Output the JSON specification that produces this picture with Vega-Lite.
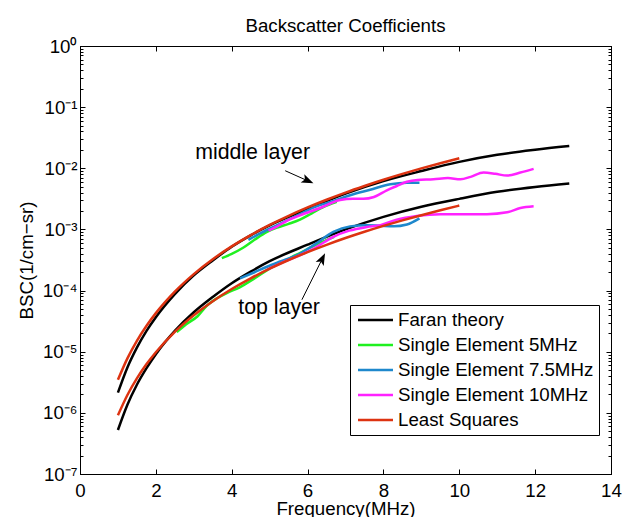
{
  "$schema": "https://vega.github.io/schema/vega-lite/v6.json",
  "width": 531,
  "height": 428,
  "autosize": {"type": "none"},
  "padding": {"left": 80, "top": 46, "right": 13, "bottom": 43},
  "background": "white",
  "title": {"text": "Backscatter Coefficients", "font": "Liberation Sans", "fontSize": 18.7, "fontWeight": "normal", "color": "black", "frame": "group", "baseline": "alphabetic", "offset": 14, "dy": 28},
  "config": {
    "font": "Liberation Sans",
    "view": {"stroke": "black", "strokeWidth": 1},
    "axis": {"grid": false, "domainColor": "black", "tickColor": "black", "labelColor": "black", "titleColor": "black", "labelFont": "Liberation Sans", "titleFont": "Liberation Sans", "labelFontSize": 18.7, "titleFontSize": 18.7, "titleFontWeight": "normal", "domainWidth": 1, "tickWidth": 1, "labelFlush": false, "labelOverlap": false}
  },
  "datasets": {
    "curves": [
      {"s": "Faran theory", "l": "mid", "f": 1, "v": 2.138e-6},
      {"s": "Faran theory", "l": "mid", "f": 1.25, "v": 5.53e-6},
      {"s": "Faran theory", "l": "mid", "f": 1.5, "v": 1.167e-5},
      {"s": "Faran theory", "l": "mid", "f": 1.75, "v": 2.173e-5},
      {"s": "Faran theory", "l": "mid", "f": 2, "v": 3.666e-5},
      {"s": "Faran theory", "l": "mid", "f": 2.5, "v": 8.75e-5},
      {"s": "Faran theory", "l": "mid", "f": 3, "v": 1.77e-4},
      {"s": "Faran theory", "l": "mid", "f": 3.5, "v": 3.112e-4},
      {"s": "Faran theory", "l": "mid", "f": 4, "v": 5.22e-4},
      {"s": "Faran theory", "l": "mid", "f": 4.5, "v": 8.017e-4},
      {"s": "Faran theory", "l": "mid", "f": 5, "v": 1.167e-3},
      {"s": "Faran theory", "l": "mid", "f": 6, "v": 2.163e-3},
      {"s": "Faran theory", "l": "mid", "f": 7, "v": 3.846e-3},
      {"s": "Faran theory", "l": "mid", "f": 8, "v": 6.166e-3},
      {"s": "Faran theory", "l": "mid", "f": 9, "v": 9.016e-3},
      {"s": "Faran theory", "l": "mid", "f": 10, "v": 1.274e-2},
      {"s": "Faran theory", "l": "mid", "f": 11, "v": 1.663e-2},
      {"s": "Faran theory", "l": "mid", "f": 12, "v": 2.009e-2},
      {"s": "Faran theory", "l": "mid", "f": 12.9, "v": 2.312e-2},
      {"s": "Faran theory", "l": "top", "f": 1, "v": 5.248e-7},
      {"s": "Faran theory", "l": "top", "f": 1.25, "v": 1.358e-6},
      {"s": "Faran theory", "l": "top", "f": 1.5, "v": 2.884e-6},
      {"s": "Faran theory", "l": "top", "f": 1.75, "v": 5.333e-6},
      {"s": "Faran theory", "l": "top", "f": 2, "v": 9.12e-6},
      {"s": "Faran theory", "l": "top", "f": 2.5, "v": 2.188e-5},
      {"s": "Faran theory", "l": "top", "f": 3, "v": 4.416e-5},
      {"s": "Faran theory", "l": "top", "f": 3.5, "v": 7.852e-5},
      {"s": "Faran theory", "l": "top", "f": 4, "v": 1.318e-4},
      {"s": "Faran theory", "l": "top", "f": 4.5, "v": 2.042e-4},
      {"s": "Faran theory", "l": "top", "f": 5, "v": 3.02e-4},
      {"s": "Faran theory", "l": "top", "f": 6, "v": 5.623e-4},
      {"s": "Faran theory", "l": "top", "f": 7, "v": 1.0e-3},
      {"s": "Faran theory", "l": "top", "f": 8, "v": 1.603e-3},
      {"s": "Faran theory", "l": "top", "f": 9, "v": 2.344e-3},
      {"s": "Faran theory", "l": "top", "f": 10, "v": 3.162e-3},
      {"s": "Faran theory", "l": "top", "f": 11, "v": 4.121e-3},
      {"s": "Faran theory", "l": "top", "f": 12, "v": 4.955e-3},
      {"s": "Faran theory", "l": "top", "f": 12.9, "v": 5.623e-3},
      {"s": "Single Element 5MHz", "l": "mid", "f": 3.74, "v": 3.388e-4},
      {"s": "Single Element 5MHz", "l": "mid", "f": 4.0, "v": 3.981e-4},
      {"s": "Single Element 5MHz", "l": "mid", "f": 4.3, "v": 5.012e-4},
      {"s": "Single Element 5MHz", "l": "mid", "f": 4.6, "v": 6.761e-4},
      {"s": "Single Element 5MHz", "l": "mid", "f": 4.93, "v": 9.12e-4},
      {"s": "Single Element 5MHz", "l": "mid", "f": 5.2, "v": 1.072e-3},
      {"s": "Single Element 5MHz", "l": "mid", "f": 5.5, "v": 1.23e-3},
      {"s": "Single Element 5MHz", "l": "mid", "f": 5.8, "v": 1.445e-3},
      {"s": "Single Element 5MHz", "l": "mid", "f": 6.1, "v": 1.82e-3},
      {"s": "Single Element 5MHz", "l": "mid", "f": 6.4, "v": 2.291e-3},
      {"s": "Single Element 5MHz", "l": "mid", "f": 6.77, "v": 2.818e-3},
      {"s": "Single Element 5MHz", "l": "top", "f": 2.55, "v": 2.089e-5},
      {"s": "Single Element 5MHz", "l": "top", "f": 2.8, "v": 2.818e-5},
      {"s": "Single Element 5MHz", "l": "top", "f": 3.1, "v": 3.802e-5},
      {"s": "Single Element 5MHz", "l": "top", "f": 3.34, "v": 5.623e-5},
      {"s": "Single Element 5MHz", "l": "top", "f": 3.6, "v": 7.413e-5},
      {"s": "Single Element 5MHz", "l": "top", "f": 3.87, "v": 9.12e-5},
      {"s": "Single Element 5MHz", "l": "top", "f": 4.2, "v": 1.122e-4},
      {"s": "Single Element 5MHz", "l": "top", "f": 4.6, "v": 1.585e-4},
      {"s": "Single Element 5MHz", "l": "top", "f": 5.0, "v": 2.291e-4},
      {"s": "Single Element 5MHz", "l": "top", "f": 5.5, "v": 3.311e-4},
      {"s": "Single Element 5MHz", "l": "top", "f": 6.0, "v": 4.786e-4},
      {"s": "Single Element 5MHz", "l": "top", "f": 6.4, "v": 6.31e-4},
      {"s": "Single Element 5MHz", "l": "top", "f": 6.7, "v": 7.586e-4},
      {"s": "Single Element 7.5MHz", "l": "mid", "f": 4.44, "v": 6.761e-4},
      {"s": "Single Element 7.5MHz", "l": "mid", "f": 4.8, "v": 8.913e-4},
      {"s": "Single Element 7.5MHz", "l": "mid", "f": 5.2, "v": 1.175e-3},
      {"s": "Single Element 7.5MHz", "l": "mid", "f": 5.5, "v": 1.445e-3},
      {"s": "Single Element 7.5MHz", "l": "mid", "f": 5.8, "v": 1.778e-3},
      {"s": "Single Element 7.5MHz", "l": "mid", "f": 6.2, "v": 2.344e-3},
      {"s": "Single Element 7.5MHz", "l": "mid", "f": 6.6, "v": 2.818e-3},
      {"s": "Single Element 7.5MHz", "l": "mid", "f": 7.12, "v": 3.631e-3},
      {"s": "Single Element 7.5MHz", "l": "mid", "f": 7.65, "v": 4.467e-3},
      {"s": "Single Element 7.5MHz", "l": "mid", "f": 8.18, "v": 5.495e-3},
      {"s": "Single Element 7.5MHz", "l": "mid", "f": 8.62, "v": 5.821e-3},
      {"s": "Single Element 7.5MHz", "l": "mid", "f": 8.95, "v": 5.821e-3},
      {"s": "Single Element 7.5MHz", "l": "top", "f": 4.22, "v": 1.585e-4},
      {"s": "Single Element 7.5MHz", "l": "top", "f": 4.6, "v": 1.995e-4},
      {"s": "Single Element 7.5MHz", "l": "top", "f": 4.93, "v": 2.455e-4},
      {"s": "Single Element 7.5MHz", "l": "top", "f": 5.3, "v": 3.02e-4},
      {"s": "Single Element 7.5MHz", "l": "top", "f": 5.72, "v": 3.802e-4},
      {"s": "Single Element 7.5MHz", "l": "top", "f": 6.2, "v": 5.754e-4},
      {"s": "Single Element 7.5MHz", "l": "top", "f": 6.68, "v": 9.12e-4},
      {"s": "Single Element 7.5MHz", "l": "top", "f": 7.12, "v": 1.122e-3},
      {"s": "Single Element 7.5MHz", "l": "top", "f": 7.56, "v": 1.175e-3},
      {"s": "Single Element 7.5MHz", "l": "top", "f": 7.92, "v": 1.148e-3},
      {"s": "Single Element 7.5MHz", "l": "top", "f": 8.27, "v": 1.122e-3},
      {"s": "Single Element 7.5MHz", "l": "top", "f": 8.62, "v": 1.202e-3},
      {"s": "Single Element 7.5MHz", "l": "top", "f": 8.95, "v": 1.514e-3},
      {"s": "Single Element 10MHz", "l": "mid", "f": 4.97, "v": 9.55e-4},
      {"s": "Single Element 10MHz", "l": "mid", "f": 5.2, "v": 1.122e-3},
      {"s": "Single Element 10MHz", "l": "mid", "f": 5.45, "v": 1.38e-3},
      {"s": "Single Element 10MHz", "l": "mid", "f": 5.8, "v": 1.698e-3},
      {"s": "Single Element 10MHz", "l": "mid", "f": 6.33, "v": 2.239e-3},
      {"s": "Single Element 10MHz", "l": "mid", "f": 6.86, "v": 3.02e-3},
      {"s": "Single Element 10MHz", "l": "mid", "f": 7.2, "v": 3.162e-3},
      {"s": "Single Element 10MHz", "l": "mid", "f": 7.47, "v": 3.162e-3},
      {"s": "Single Element 10MHz", "l": "mid", "f": 7.75, "v": 3.388e-3},
      {"s": "Single Element 10MHz", "l": "mid", "f": 8.09, "v": 4.365e-3},
      {"s": "Single Element 10MHz", "l": "mid", "f": 8.35, "v": 5.129e-3},
      {"s": "Single Element 10MHz", "l": "mid", "f": 8.62, "v": 6.026e-3},
      {"s": "Single Element 10MHz", "l": "mid", "f": 8.9, "v": 6.457e-3},
      {"s": "Single Element 10MHz", "l": "mid", "f": 9.32, "v": 6.607e-3},
      {"s": "Single Element 10MHz", "l": "mid", "f": 9.7, "v": 6.918e-3},
      {"s": "Single Element 10MHz", "l": "mid", "f": 10.03, "v": 6.607e-3},
      {"s": "Single Element 10MHz", "l": "mid", "f": 10.3, "v": 7.244e-3},
      {"s": "Single Element 10MHz", "l": "mid", "f": 10.64, "v": 8.511e-3},
      {"s": "Single Element 10MHz", "l": "mid", "f": 10.95, "v": 8.128e-3},
      {"s": "Single Element 10MHz", "l": "mid", "f": 11.26, "v": 7.586e-3},
      {"s": "Single Element 10MHz", "l": "mid", "f": 11.61, "v": 8.511e-3},
      {"s": "Single Element 10MHz", "l": "mid", "f": 11.96, "v": 9.772e-3},
      {"s": "Single Element 10MHz", "l": "top", "f": 4.93, "v": 2.188e-4},
      {"s": "Single Element 10MHz", "l": "top", "f": 5.3, "v": 2.818e-4},
      {"s": "Single Element 10MHz", "l": "top", "f": 5.7, "v": 3.548e-4},
      {"s": "Single Element 10MHz", "l": "top", "f": 6.2, "v": 5.012e-4},
      {"s": "Single Element 10MHz", "l": "top", "f": 6.68, "v": 7.586e-4},
      {"s": "Single Element 10MHz", "l": "top", "f": 7.1, "v": 9.55e-4},
      {"s": "Single Element 10MHz", "l": "top", "f": 7.56, "v": 1.096e-3},
      {"s": "Single Element 10MHz", "l": "top", "f": 7.92, "v": 1.175e-3},
      {"s": "Single Element 10MHz", "l": "top", "f": 8.35, "v": 1.445e-3},
      {"s": "Single Element 10MHz", "l": "top", "f": 8.88, "v": 1.66e-3},
      {"s": "Single Element 10MHz", "l": "top", "f": 9.5, "v": 1.778e-3},
      {"s": "Single Element 10MHz", "l": "top", "f": 10.03, "v": 1.778e-3},
      {"s": "Single Element 10MHz", "l": "top", "f": 10.73, "v": 1.778e-3},
      {"s": "Single Element 10MHz", "l": "top", "f": 11.26, "v": 1.905e-3},
      {"s": "Single Element 10MHz", "l": "top", "f": 11.61, "v": 2.239e-3},
      {"s": "Single Element 10MHz", "l": "top", "f": 11.96, "v": 2.399e-3},
      {"s": "Least Squares", "l": "mid", "f": 1, "v": 3.467e-6},
      {"s": "Least Squares", "l": "mid", "f": 1.25, "v": 7.78e-6},
      {"s": "Least Squares", "l": "mid", "f": 1.5, "v": 1.507e-5},
      {"s": "Least Squares", "l": "mid", "f": 1.75, "v": 2.636e-5},
      {"s": "Least Squares", "l": "mid", "f": 2, "v": 4.276e-5},
      {"s": "Least Squares", "l": "mid", "f": 2.5, "v": 9.594e-5},
      {"s": "Least Squares", "l": "mid", "f": 3, "v": 1.858e-4},
      {"s": "Least Squares", "l": "mid", "f": 3.5, "v": 3.251e-4},
      {"s": "Least Squares", "l": "mid", "f": 4, "v": 5.272e-4},
      {"s": "Least Squares", "l": "mid", "f": 4.5, "v": 8.072e-4},
      {"s": "Least Squares", "l": "mid", "f": 5, "v": 1.183e-3},
      {"s": "Least Squares", "l": "mid", "f": 5.5, "v": 1.671e-3},
      {"s": "Least Squares", "l": "mid", "f": 6, "v": 2.291e-3},
      {"s": "Least Squares", "l": "mid", "f": 6.5, "v": 3.062e-3},
      {"s": "Least Squares", "l": "mid", "f": 7, "v": 4.009e-3},
      {"s": "Least Squares", "l": "mid", "f": 7.5, "v": 5.14e-3},
      {"s": "Least Squares", "l": "mid", "f": 8, "v": 6.501e-3},
      {"s": "Least Squares", "l": "mid", "f": 8.5, "v": 8.091e-3},
      {"s": "Least Squares", "l": "mid", "f": 9, "v": 9.954e-3},
      {"s": "Least Squares", "l": "mid", "f": 9.5, "v": 1.211e-2},
      {"s": "Least Squares", "l": "mid", "f": 10, "v": 1.459e-2},
      {"s": "Least Squares", "l": "top", "f": 1, "v": 9.12e-7},
      {"s": "Least Squares", "l": "top", "f": 1.25, "v": 1.959e-6},
      {"s": "Least Squares", "l": "top", "f": 1.5, "v": 3.664e-6},
      {"s": "Least Squares", "l": "top", "f": 1.75, "v": 6.216e-6},
      {"s": "Least Squares", "l": "top", "f": 2, "v": 9.817e-6},
      {"s": "Least Squares", "l": "top", "f": 2.5, "v": 2.113e-5},
      {"s": "Least Squares", "l": "top", "f": 3, "v": 3.945e-5},
      {"s": "Least Squares", "l": "top", "f": 3.5, "v": 6.699e-5},
      {"s": "Least Squares", "l": "top", "f": 4, "v": 1.059e-4},
      {"s": "Least Squares", "l": "top", "f": 4.5, "v": 1.585e-4},
      {"s": "Least Squares", "l": "top", "f": 5, "v": 2.28e-4},
      {"s": "Least Squares", "l": "top", "f": 5.5, "v": 3.162e-4},
      {"s": "Least Squares", "l": "top", "f": 6, "v": 4.256e-4},
      {"s": "Least Squares", "l": "top", "f": 6.5, "v": 5.598e-4},
      {"s": "Least Squares", "l": "top", "f": 7, "v": 7.228e-4},
      {"s": "Least Squares", "l": "top", "f": 7.5, "v": 9.162e-4},
      {"s": "Least Squares", "l": "top", "f": 8, "v": 1.143e-3},
      {"s": "Least Squares", "l": "top", "f": 8.5, "v": 1.406e-3},
      {"s": "Least Squares", "l": "top", "f": 9, "v": 1.71e-3},
      {"s": "Least Squares", "l": "top", "f": 9.5, "v": 2.056e-3},
      {"s": "Least Squares", "l": "top", "f": 10, "v": 2.455e-3}
    ],
    "arrows": [
      {"f": 5.41, "v": 9.12e-3, "f2": 6.01, "v2": 6.22e-3},
      {"f": 5.85, "v": 7.08e-5, "f2": 6.39, "v2": 3.33e-4}
    ],
    "heads": [
      {"f": 6.01, "v": 6.22e-3, "a": 114},
      {"f": 6.39, "v": 3.33e-4, "a": 26.5}
    ],
    "notes": [
      {"f": 4.55, "v": 1.81e-2, "t": "middle layer"},
      {"f": 5.25, "v": 5.21e-5, "t": "top layer"}
    ]
  },
  "layer": [
    {
      "data": {"name": "curves"},
      "mark": {"type": "line", "strokeWidth": 2.5, "interpolate": "monotone"},
      "encoding": {
        "x": {"field": "f", "type": "quantitative", "scale": {"domain": [0, 14], "nice": false, "zero": false},
          "axis": {"orient": "bottom", "values": [0, 2, 4, 6, 8, 10, 12, 14], "tickSize": -5, "labelPadding": 12.6, "title": "Frequency(MHz)", "titlePadding": -1}},
        "y": {"field": "v", "type": "quantitative", "scale": {"type": "log", "domain": [1e-7, 1], "nice": false},
          "axis": {"orient": "left", "values": [1e-7, 1e-6, 1e-5, 1e-4, 1e-3, 1e-2, 1e-1, 1], "tickSize": -5, "labelPadding": 8,
            "labelExpr": "'10' + (datum.value > 0.5 ? '⁰' : datum.value > 0.05 ? '⁻¹' : datum.value > 0.005 ? '⁻²' : datum.value > 0.0005 ? '⁻³' : datum.value > 0.00005 ? '⁻⁴' : datum.value > 0.000005 ? '⁻⁵' : datum.value > 0.0000005 ? '⁻⁶' : '⁻⁷')",
            "title": "BSC(1/cm−sr)", "titlePadding": 6}},
        "color": {"field": "s", "type": "nominal",
          "scale": {"domain": ["Faran theory", "Single Element 5MHz", "Single Element 7.5MHz", "Single Element 10MHz", "Least Squares"], "range": ["#000000", "#20f020", "#1e88cc", "#ff22ff", "#dd3311"]},
          "legend": {"orient": "none", "legendX": 270, "legendY": 259, "title": null, "strokeColor": "black", "fillColor": "white", "padding": 5,
            "symbolType": "M-0.8,0L3.2,0", "symbolSize": 306, "symbolStrokeWidth": 2.5, "labelFont": "Liberation Sans", "labelFontSize": 18.7, "labelColor": "black", "labelOffset": 23, "rowPadding": 5, "labelLimit": 400}},
        "detail": {"field": "l"}
      }
    },
    {
      "data": {"name": "arrows"},
      "mark": {"type": "rule", "color": "black", "strokeWidth": 1},
      "encoding": {
        "x": {"field": "f", "type": "quantitative", "scale": {"domain": [0, 14], "nice": false, "zero": false},
          "axis": {"orient": "top", "values": [0, 2, 4, 6, 8, 10, 12, 14], "tickSize": -5, "labels": false, "title": null}},
        "y": {"field": "v", "type": "quantitative", "scale": {"type": "log", "domain": [1e-7, 1], "nice": false},
          "axis": {"orient": "right", "values": [1e-7, 1e-6, 1e-5, 1e-4, 1e-3, 1e-2, 1e-1, 1], "tickSize": -5, "labels": false, "title": null}},
        "x2": {"field": "f2"},
        "y2": {"field": "v2"}
      }
    },
    {
      "data": {"name": "heads"},
      "mark": {"type": "point", "shape": "M0,-1L0.75,1L0,0.55L-0.75,1Z", "filled": true, "color": "black", "size": 144, "opacity": 1},
      "encoding": {
        "x": {"field": "f", "type": "quantitative", "scale": {"domain": [0, 14], "nice": false, "zero": false}, "axis": null},
        "y": {"field": "v", "type": "quantitative", "scale": {"type": "log", "domain": [1e-7, 1], "nice": false},
          "axis": {"orient": "left", "values": [2e-7, 3e-7, 4e-7, 5e-7, 6e-7, 7e-7, 8e-7, 9e-7, 2e-6, 3e-6, 4e-6, 5e-6, 6e-6, 7e-6, 8e-6, 9e-6, 2e-5, 3e-5, 4e-5, 5e-5, 6e-5, 7e-5, 8e-5, 9e-5, 2e-4, 3e-4, 4e-4, 5e-4, 6e-4, 7e-4, 8e-4, 9e-4, 2e-3, 3e-3, 4e-3, 5e-3, 6e-3, 7e-3, 8e-3, 9e-3, 2e-2, 3e-2, 4e-2, 5e-2, 6e-2, 7e-2, 8e-2, 9e-2, 0.2, 0.3, 0.4, 0.5, 0.6, 0.7, 0.8, 0.9], "tickSize": -3, "labels": false, "domain": false, "title": null}},
        "angle": {"field": "a", "type": "quantitative", "scale": null}
      }
    },
    {
      "data": {"name": "notes"},
      "mark": {"type": "text", "font": "Liberation Sans", "fontSize": 21.3, "color": "black", "align": "center", "baseline": "middle"},
      "encoding": {
        "x": {"field": "f", "type": "quantitative", "scale": {"domain": [0, 14], "nice": false, "zero": false}, "axis": null},
        "y": {"field": "v", "type": "quantitative", "scale": {"type": "log", "domain": [1e-7, 1], "nice": false},
          "axis": {"orient": "right", "values": [2e-7, 3e-7, 4e-7, 5e-7, 6e-7, 7e-7, 8e-7, 9e-7, 2e-6, 3e-6, 4e-6, 5e-6, 6e-6, 7e-6, 8e-6, 9e-6, 2e-5, 3e-5, 4e-5, 5e-5, 6e-5, 7e-5, 8e-5, 9e-5, 2e-4, 3e-4, 4e-4, 5e-4, 6e-4, 7e-4, 8e-4, 9e-4, 2e-3, 3e-3, 4e-3, 5e-3, 6e-3, 7e-3, 8e-3, 9e-3, 2e-2, 3e-2, 4e-2, 5e-2, 6e-2, 7e-2, 8e-2, 9e-2, 0.2, 0.3, 0.4, 0.5, 0.6, 0.7, 0.8, 0.9], "tickSize": -3, "labels": false, "domain": false, "title": null}},
        "text": {"field": "t"}
      }
    }
  ],
  "resolve": {"axis": {"x": "independent", "y": "independent"}}
}
